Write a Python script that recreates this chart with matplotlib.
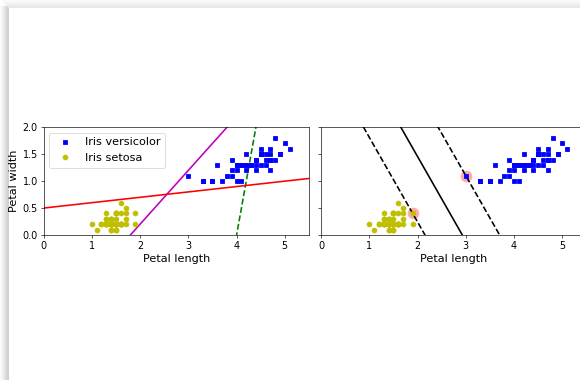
import numpy as np
import matplotlib
matplotlib.use("Agg")
import matplotlib.pyplot as plt
from matplotlib.patches import Rectangle

# Iris data: petal length / width
setosa_length = [1.4,1.4,1.3,1.5,1.4,1.7,1.4,1.5,1.4,1.5,1.5,1.6,1.4,1.1,1.2,1.5,1.3,1.4,1.7,1.5,
                 1.7,1.5,1.0,1.7,1.9,1.6,1.6,1.5,1.4,1.6,1.6,1.5,1.5,1.4,1.5,1.2,1.3,1.4,1.3,1.5,
                 1.3,1.3,1.3,1.6,1.9,1.4,1.6,1.4,1.5,1.4]
setosa_width = [0.2,0.2,0.2,0.2,0.2,0.4,0.3,0.2,0.2,0.1,0.2,0.2,0.1,0.1,0.2,0.4,0.4,0.3,0.3,0.3,
                0.2,0.4,0.2,0.5,0.2,0.2,0.4,0.2,0.2,0.2,0.2,0.4,0.1,0.2,0.2,0.2,0.2,0.1,0.2,0.2,
                0.3,0.3,0.2,0.6,0.4,0.3,0.2,0.2,0.2,0.2]
versicolor_length = [4.7,4.5,4.9,4.0,4.6,4.5,4.7,3.3,4.6,3.9,3.5,4.2,4.0,4.7,3.6,4.4,4.5,4.1,4.5,3.9,
                     4.8,4.0,4.9,4.7,4.3,4.4,4.8,5.0,4.5,3.5,3.8,3.7,3.9,5.1,4.5,4.5,4.7,4.4,4.1,4.0,
                     4.4,4.6,4.0,3.3,4.2,4.2,4.2,4.3,3.0,4.1]
versicolor_width = [1.4,1.5,1.5,1.3,1.5,1.3,1.6,1.0,1.3,1.4,1.0,1.5,1.0,1.4,1.3,1.4,1.5,1.0,1.5,1.1,
                    1.8,1.3,1.5,1.2,1.3,1.4,1.4,1.7,1.5,1.0,1.1,1.0,1.2,1.6,1.5,1.6,1.5,1.3,1.3,1.3,
                    1.2,1.4,1.2,1.0,1.3,1.2,1.3,1.3,1.1,1.3]

# Bad models (left): slope, intercept
bad_slopes = [5.0, 1.0, 0.1]
bad_intercepts = [-20.0, -1.8, 0.5]
# SVM (right): boundary slope/intercept, margin offset
svm_slope = -1.5714
svm_intercept = 4.6
svm_margin = 1.2143
support_length = [1.9, 3.0]
support_width = [0.4, 1.1]

plt.rc("axes", labelsize=14)
plt.rc("xtick", labelsize=12)
plt.rc("ytick", labelsize=12)

dpi = 58
fig = plt.figure(figsize=(580 / dpi, 380 / dpi), dpi=dpi)

# window shadow
for i in range(8):
    g = 0.80 + 0.025 * i
    fig.patches.append(Rectangle(((7 - i) / 580, 0), 1 / 580, 1 - 6 / 380,
                                 transform=fig.transFigure, color=(g, g, g), zorder=-5))
for i in range(7):
    g = 0.90 + 0.013 * i
    fig.patches.append(Rectangle(((8 - i) / 580, 1 - (7 - i) / 380), 1, 1 / 380,
                                 transform=fig.transFigure, color=(g, g, g), zorder=-5))

W, H = 580, 380
bottom = (H - 235) / H
height = (235 - 127.3) / H
ax1 = fig.add_axes([43.5 / W, bottom, (309 - 43.5) / W, height])
ax2 = fig.add_axes([321 / W, bottom, (309 - 43.5) / W, height])

x0 = np.linspace(0, 5.5, 200)
ax1.plot(x0, bad_slopes[0] * x0 + bad_intercepts[0], "g--", linewidth=2)
ax1.plot(x0, bad_slopes[1] * x0 + bad_intercepts[1], "m-", linewidth=2)
ax1.plot(x0, bad_slopes[2] * x0 + bad_intercepts[2], "r-", linewidth=2)
ax1.plot(versicolor_length, versicolor_width, "bs", label="Iris versicolor")
ax1.plot(setosa_length, setosa_width, "yo", label="Iris setosa")
ax1.set_xlabel("Petal length", fontsize=14)
ax1.set_ylabel("Petal width", fontsize=14)
ax1.legend(loc="upper left", fontsize=14)
ax1.axis([0, 5.5, 0, 2])

db = svm_slope * x0 + svm_intercept
ax2.scatter(support_length, support_width, s=180, facecolors="#FFAAAA")
ax2.plot(x0, db, "k-", linewidth=2)
ax2.plot(x0, db + svm_margin, "k--", linewidth=2)
ax2.plot(x0, db - svm_margin, "k--", linewidth=2)
ax2.plot(versicolor_length, versicolor_width, "bs")
ax2.plot(setosa_length, setosa_width, "yo")
ax2.set_xlabel("Petal length", fontsize=14)
ax2.axis([0, 5.5, 0, 2])
ax2.tick_params(labelleft=False)

fig.savefig("out.png", dpi=dpi)
